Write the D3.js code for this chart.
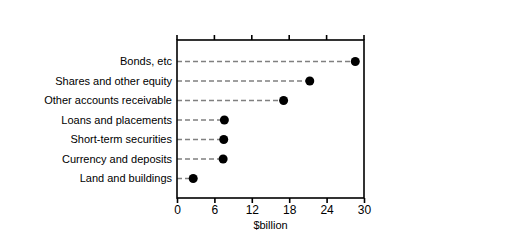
<!DOCTYPE html>
<html>
<head>
<meta charset="utf-8">
<script src="https://cdn.jsdelivr.net/npm/d3@7"></script>
<style>
  body { margin: 0; background: #fff; }
  text { font-family: "Liberation Sans", Arial, sans-serif; font-size: 11px; fill: #000; }
</style>
</head>
<body>
<div id="chart"></div>
<script>
// categories, top to bottom
var categories = ["Bonds, etc", "Shares and other equity", "Other accounts receivable",
                  "Loans and placements", "Short-term securities", "Currency and deposits",
                  "Land and buildings"];
var values = [28.6, 21.3, 17.1, 7.6, 7.5, 7.4, 2.6];
var ticks = [0, 6, 12, 18, 24, 30];

var width = 509, height = 249;
var plotLeft = 177, plotRight = 364, plotTop = 40, plotBottom = 198;

var svg = d3.select("#chart").append("svg")
            .attr("width", width)
            .attr("height", height);

var x = d3.scaleLinear().domain([0, 30]).range([plotLeft, plotRight]);
var y = d3.scalePoint().domain(categories).range([plotTop + 2, plotBottom]).padding(1);

var data = categories.map(function(c, i) { return { name: c, value: values[i] }; });

// dashed leaders
svg.selectAll(".leader")
   .data(data)
  .enter().append("line")
   .attr("class", "leader")
   .attr("x1", x(0))
   .attr("x2", function(d) { return x(d.value); })
   .attr("y1", function(d) { return y(d.name); })
   .attr("y2", function(d) { return y(d.name); })
   .style("stroke", "#808080")
   .style("stroke-width", 1.5)
   .style("stroke-dasharray", "5,3");

// frame
svg.append("rect")
   .attr("x", plotLeft).attr("y", plotTop)
   .attr("width", plotRight - plotLeft).attr("height", plotBottom - plotTop)
   .style("fill", "none").style("stroke", "#000").style("stroke-width", 1.6);

// top ticks
svg.selectAll(".ttick")
   .data(ticks)
  .enter().append("line")
   .attr("x1", function(d) { return x(d); })
   .attr("x2", function(d) { return x(d); })
   .attr("y1", plotTop - 5).attr("y2", plotTop)
   .style("stroke", "#000").style("stroke-width", 1.6);

// bottom axis
var xAxis = d3.axisBottom(x).tickValues(ticks).tickSize(5).tickSizeOuter(0).tickPadding(2);
var gx = svg.append("g").attr("transform", "translate(0," + plotBottom + ")").call(xAxis);
gx.select(".domain").remove();
gx.selectAll("line").style("stroke", "#000").style("stroke-width", 1.6);
gx.selectAll("text").style("font-family", "Liberation Sans, Arial, sans-serif").style("font-size", "12px");

svg.append("text")
   .attr("x", (plotLeft + plotRight) / 2)
   .attr("y", 229)
   .attr("text-anchor", "middle")
   .text("$billion");

// category labels
svg.selectAll(".cat")
   .data(data)
  .enter().append("text")
   .attr("class", "cat")
   .attr("x", plotLeft - 5)
   .attr("y", function(d) { return y(d.name); })
   .attr("dy", "0.35em")
   .attr("text-anchor", "end")
   .text(function(d) { return d.name; });

// dots
svg.selectAll(".dot")
   .data(data)
  .enter().append("circle")
   .attr("class", "dot")
   .attr("cx", function(d) { return x(d.value); })
   .attr("cy", function(d) { return y(d.name); })
   .attr("r", 4.5)
   .style("fill", "#000");
</script>
</body>
</html>
